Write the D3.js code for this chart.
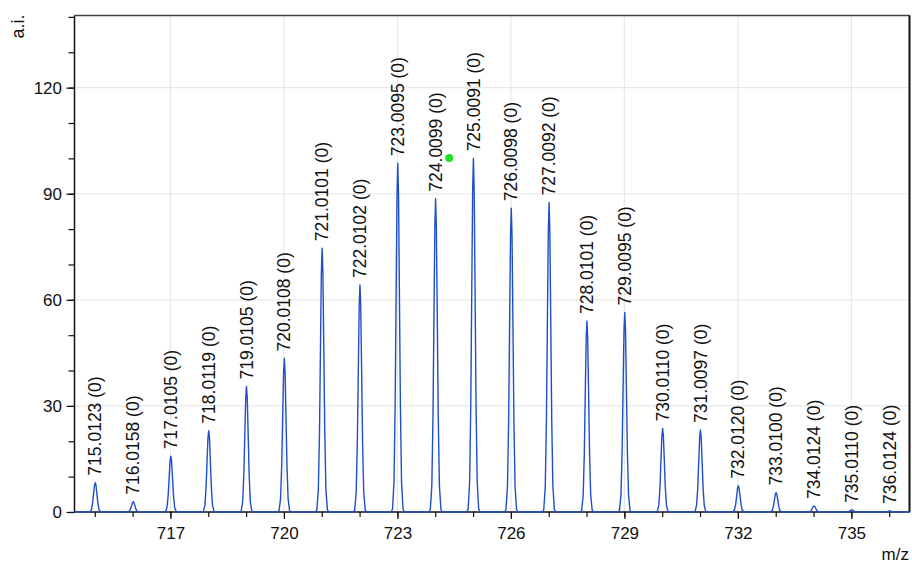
<!DOCTYPE html>
<html>
<head>
<meta charset="utf-8">
<script src="https://cdn.jsdelivr.net/npm/d3@7"></script>
<style>
    body { margin: 0; background: #fff; }
    text { font-family: Arial, "Liberation Sans", sans-serif; fill: #111; }
</style>
</head>
<body>
<div id="chart-area"></div>
<script>
// Centroid m/z of each isotope peak
const mzValues = [715.0123, 716.0158, 717.0105, 718.0119, 719.0105, 720.0108, 721.0101,
    722.0102, 723.0095, 724.0099, 725.0091, 726.0098, 727.0092, 728.0101, 729.0095,
    730.0110, 731.0097, 732.0120, 733.0100, 734.0124, 735.0110, 736.0124];
// Peak intensities (a.i.)
const intensities = [8.3, 2.9, 15.8, 23.0, 35.5, 43.4, 74.6, 64.2, 98.6, 88.6, 100.0,
    85.9, 87.5, 54.0, 56.4, 23.6, 23.2, 7.4, 5.5, 1.7, 0.6, 0.3];
// Charge shown in brackets after each label
const charges = [0, 0, 0, 0, 0, 0, 0, 0, 0, 0, 0, 0, 0, 0, 0, 0, 0, 0, 0, 0, 0, 0];

// Axis ticks
const xMajorTicks = [717, 720, 723, 726, 729, 732, 735];
const xMinorTicks = [715, 716, 717, 718, 719, 720, 721, 722, 723, 724, 725, 726, 727, 728,
    729, 730, 731, 732, 733, 734, 735, 736];
const yMajorTicks = [0, 30, 60, 90, 120];
const yMinorTicks = [0, 10, 20, 30, 40, 50, 60, 70, 80, 90, 100, 110, 120, 130, 140];

// Cursor marker (green dot)
const cursorPoint = [724.37, 100.1];

// Visible range
const xDomain = [714.464, 736.55];
const yDomain = [0, 140.4];

// Shape of a single profile peak: [m/z offset, fraction of height]
const PEAK_PROFILE = [[-0.18, 0], [-0.14, 0.008], [-0.10, 0.085], [-0.07, 0.30],
    [-0.04, 0.67], [-0.02, 0.91], [0, 1], [0.02, 0.91], [0.04, 0.67], [0.07, 0.30],
    [0.10, 0.085], [0.14, 0.008], [0.18, 0]];

const WIDTH = 912;
const HEIGHT = 565;
const MARGIN = {LEFT: 74.5, RIGHT: 2, TOP: 15.5, BOTTOM: 53};
const wGraph = WIDTH - MARGIN.LEFT - MARGIN.RIGHT;
const hGraph = HEIGHT - MARGIN.TOP - MARGIN.BOTTOM;

const svg = d3.select('#chart-area').append('svg')
    .attr('width', WIDTH)
    .attr('height', HEIGHT);

const group = svg.append('g')
    .attr('transform', `translate(${MARGIN.LEFT}, ${MARGIN.TOP})`);

const xScale = d3.scaleLinear().domain(xDomain).range([0, wGraph]);
const yScale = d3.scaleLinear().domain(yDomain).range([hGraph, 0]);

// Grid lines
group.append('g')
    .attr('class', 'grid')
    .selectAll('line.h')
    .data(yMajorTicks.filter(d => d > 0))
    .enter().append('line')
    .attr('x1', 0).attr('x2', wGraph)
    .attr('y1', d => yScale(d)).attr('y2', d => yScale(d))
    .attr('stroke', '#e8e8e8').attr('stroke-width', 1.2);

group.append('g')
    .attr('class', 'grid')
    .selectAll('line.v')
    .data(xMajorTicks)
    .enter().append('line')
    .attr('x1', d => xScale(d)).attr('x2', d => xScale(d))
    .attr('y1', 0).attr('y2', hGraph)
    .attr('stroke', '#e8e8e8').attr('stroke-width', 1.2);

// X axis: minor ticks, then major ticks with labels
group.append('g')
    .attr('transform', `translate(0,${hGraph})`)
    .call(d3.axisBottom(xScale).tickValues(xMinorTicks).tickSize(5).tickFormat(''))
    .call(g => g.select('.domain').remove());

group.append('g')
    .attr('class', 'x axis')
    .attr('transform', `translate(0,${hGraph})`)
    .call(d3.axisBottom(xScale).tickValues(xMajorTicks).tickSize(7).tickPadding(8))
    .call(g => g.select('.domain').remove())
    .selectAll('text')
    .attr('font-size', '17px')
    .attr('font-family', 'Arial, "Liberation Sans", sans-serif');

// Y axis
group.append('g')
    .call(d3.axisLeft(yScale).tickValues(yMinorTicks).tickSize(6).tickFormat(''))
    .call(g => g.select('.domain').remove());

group.append('g')
    .attr('class', 'y axis')
    .call(d3.axisLeft(yScale).tickValues(yMajorTicks).tickSize(8).tickPadding(4.5))
    .call(g => g.select('.domain').remove())
    .selectAll('text')
    .attr('font-size', '17px')
    .attr('font-family', 'Arial, "Liberation Sans", sans-serif');

group.selectAll('.tick line').attr('stroke', '#111').attr('stroke-width', 1.2);

// Frame
group.append('line')
    .attr('x1', 0).attr('x2', wGraph).attr('y1', 0).attr('y2', 0)
    .attr('stroke', '#444').attr('stroke-width', 1.5);
group.append('line')
    .attr('x1', wGraph - 0.5).attr('x2', wGraph - 0.5).attr('y1', 0).attr('y2', hGraph)
    .attr('stroke', '#111').attr('stroke-width', 2);
group.append('line')
    .attr('x1', 0).attr('x2', 0).attr('y1', 0).attr('y2', hGraph)
    .attr('stroke', '#111').attr('stroke-width', 1.5);
group.append('line')
    .attr('x1', 0).attr('x2', wGraph).attr('y1', hGraph).attr('y2', hGraph)
    .attr('stroke', '#111').attr('stroke-width', 1.5);

// Profile spectrum: baseline plus one shaped peak per centroid
const peaks = mzValues.map((mz, i) => ({mz: mz, h: intensities[i], z: charges[i]}));
const profile = [[xDomain[0], 0]];
peaks.forEach(p => {
    PEAK_PROFILE.forEach(k => profile.push([p.mz + k[0], p.h * k[1]]));
});
profile.push([xDomain[1], 0]);

const line = d3.line()
    .x(d => xScale(d[0]))
    .y(d => yScale(d[1]));

group.append('path')
    .datum(profile)
    .attr('d', line)
    .attr('fill', 'none')
    .attr('stroke', '#1f4fc8')
    .attr('stroke-width', 1.4)
    .attr('stroke-linejoin', 'round');

// Peak labels
group.selectAll('text.peak')
    .data(peaks)
    .enter().append('text')
    .attr('class', 'peak')
    .attr('transform', d => `translate(${xScale(d.mz)}, ${yScale(d.h) - 7}) rotate(-90)`)
    .attr('dy', '0.35em')
    .attr('font-size', '17.5px')
    .attr('text-anchor', 'start')
    .text(d => `${d.mz.toFixed(4)} (${d.z})`);

// Cursor marker
group.append('circle')
    .attr('cx', xScale(cursorPoint[0]))
    .attr('cy', yScale(cursorPoint[1]))
    .attr('r', 4)
    .attr('fill', '#22e022');

// Axis labels
svg.append('text')
    .attr('transform', 'translate(24, 26.5) rotate(-90)')
    .attr('text-anchor', 'middle')
    .attr('font-size', '18px')
    .text('a.i.');

svg.append('text')
    .attr('x', 909)
    .attr('y', 560)
    .attr('text-anchor', 'end')
    .attr('font-size', '17px')
    .text('m/z');
</script>
</body>
</html>
